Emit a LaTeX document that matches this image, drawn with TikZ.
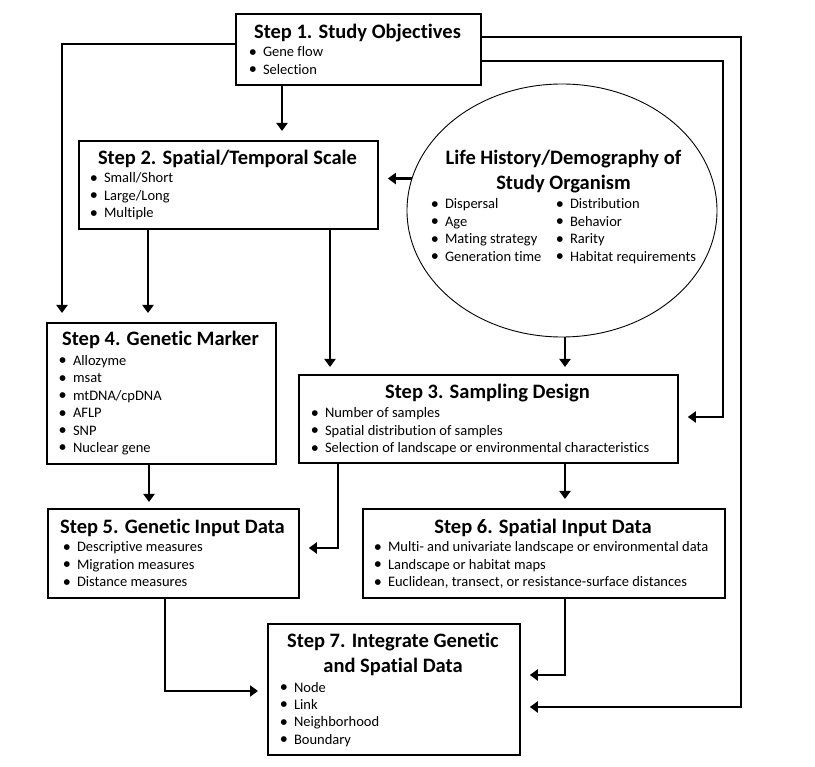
\documentclass[tikz,border=0pt]{standalone}
\usepackage{fontspec}
\setmainfont{Carlito}[Ligatures=NoCommon]
\newfontfamily\dotfont{DejaVu Sans}
\usetikzlibrary{arrows.meta,shapes.geometric}

\tikzset{every picture/.style={line width=2pt}}
\tikzset{
  stepbox/.style={draw, line width=1.8pt, rectangle, anchor=north west, inner sep=0pt},
  lifebox/.style={draw, line width=0.9pt, ellipse, inner sep=0pt},
  titletext/.style={anchor=base, inner sep=0pt, font=\fontsize{20.5}{25}\selectfont\bfseries},
  itemtext/.style={anchor=base west, inner sep=0pt, font=\fontsize{14.5}{17.4}\selectfont},
  arr/.style={line width=2.2pt, shorten >=9pt, -{Triangle[length=8pt,width=11pt]}},
}
\newcommand{\bul}{\makebox[13.5pt][l]{\raisebox{2.6pt}{\dotfont\fontsize{7.5}{8}\selectfont ●}}}
\newcommand{\itemlist}[1]{\begin{tabular}[t]{@{}l@{}}#1\end{tabular}}
\newcommand{\twolines}[1]{\begin{tabular}[t]{@{}c@{}}#1\end{tabular}}

\begin{document}
\begin{tikzpicture}[x=1pt,y=1pt,yscale=-1]
    \useasboundingbox (0,0) rectangle (815,767);

    % Step 1
    \node[stepbox, minimum width=245pt, minimum height=71pt] (s1) at (235,13) {};
    \node[titletext] (s1t) at (357.5,39) {Step 1. Study Objectives};
    \node[itemtext] (s1l) at (248.5,57) {\itemlist{\bul Gene flow\\ \bul Selection}};

    % Step 2
    \node[stepbox, minimum width=299pt, minimum height=88pt] (s2) at (78,140) {};
    \node[titletext] (s2t) at (227.5,165) {Step 2. Spatial/Temporal Scale};
    \node[itemtext] (s2l) at (89.5,183) {\itemlist{\bul Small/Short\\ \bul Large/Long\\ \bul Multiple}};

    % Life history ellipse
    \node[lifebox, minimum width=310pt, minimum height=253pt] (life) at (562,210.5) {};
    \node[titletext] (lifet) at (563.5,165) {\twolines{Life History/Demography of\\ Study Organism}};
    \node[itemtext] (lifel) at (430.5,209) {\itemlist{\bul Dispersal\\ \bul Age\\ \bul Mating strategy\\ \bul Generation time}};
    \node[itemtext] (lifer) at (555.5,209) {\itemlist{\bul Distribution\\ \bul Behavior\\ \bul Rarity\\ \bul Habitat requirements}};

    % Step 4
    \node[stepbox, minimum width=229pt, minimum height=141pt] (s4) at (46,322) {};
    \node[titletext] (s4t) at (160.5,346) {Step 4. Genetic Marker};
    \node[itemtext] (s4l) at (58.5,365.5) {\itemlist{\bul Allozyme\\ \bul msat\\ \bul mtDNA/cpDNA\\ \bul AFLP\\ \bul SNP\\ \bul Nuclear gene}};

    % Step 3
    \node[stepbox, minimum width=379pt, minimum height=88pt] (s3) at (298,374) {};
    \node[titletext] (s3t) at (487.5,399) {Step 3. Sampling Design};
    \node[itemtext] (s3l) at (310.5,418) {\itemlist{\bul Number of samples\\ \bul Spatial distribution of samples\\ \bul Selection of landscape or environmental characteristics}};

    % Step 5
    \node[stepbox, minimum width=251pt, minimum height=89pt] (s5) at (47,508) {};
    \node[titletext] (s5t) at (172.5,533) {Step 5. Genetic Input Data};
    \node[itemtext] (s5l) at (62.5,552) {\itemlist{\bul Descriptive measures\\ \bul Migration measures\\ \bul Distance measures}};

    % Step 6
    \node[stepbox, minimum width=362pt, minimum height=89pt] (s6) at (362,508) {};
    \node[titletext] (s6t) at (543,533) {Step 6. Spatial Input Data};
    \node[itemtext] (s6l) at (373.5,552) {\itemlist{\bul Multi- and univariate landscape or environmental data\\ \bul Landscape or habitat maps\\ \bul Euclidean, transect, or resistance-surface distances}};

    % Step 7
    \node[stepbox, minimum width=252pt, minimum height=131pt] (s7) at (267,623) {};
    \node[titletext] (s7t) at (393,647) {\twolines{Step 7. Integrate Genetic\\ and Spatial Data}};
    \node[itemtext] (s7l) at (279.5,692) {\itemlist{\bul Node\\ \bul Link\\ \bul Neighborhood\\ \bul Boundary}};

    % Arrows
    \draw[arr] (s1.south -| 282,0) -- (s2.north -| 282,0);
    \draw[arr] (s1.west |- 0,44) -| (s4.north -| 62,0);
    \draw[arr] (s1.east |- 0,37) -- (741,37) |- (s7.east |- 0,707);
    \draw[arr] (s1.east |- 0,61) -- (723,61) |- (s3.east |- 0,417);
    \draw[arr] (life.168) -- (s2.east |- life.168);
    \draw[arr] (s2.south -| 148,0) -- (s4.north -| 148,0);
    \draw[arr, shorten >=7pt] (s2.south -| 330,0) -- (s3.north -| 330,0);
    \draw[arr, shorten >=7pt] (life.south -| 565,0) -- (s3.north -| 565,0);
    \draw[arr, shorten >=6pt] (s4.south -| 149,0) -- (s5.north -| 149,0);
    \draw[arr] (s3.south -| 338,0) |- (s5.east |- 0,548);
    \draw[arr] (s3.south -| 565,0) -- (s6.north -| 565,0);
    \draw[arr] (s5.south -| 165,0) |- (s7.west |- 0,691);
    \draw[arr] (s6.south -| 565,0) |- (s7.east |- 0,675);

\end{tikzpicture}
\end{document}
